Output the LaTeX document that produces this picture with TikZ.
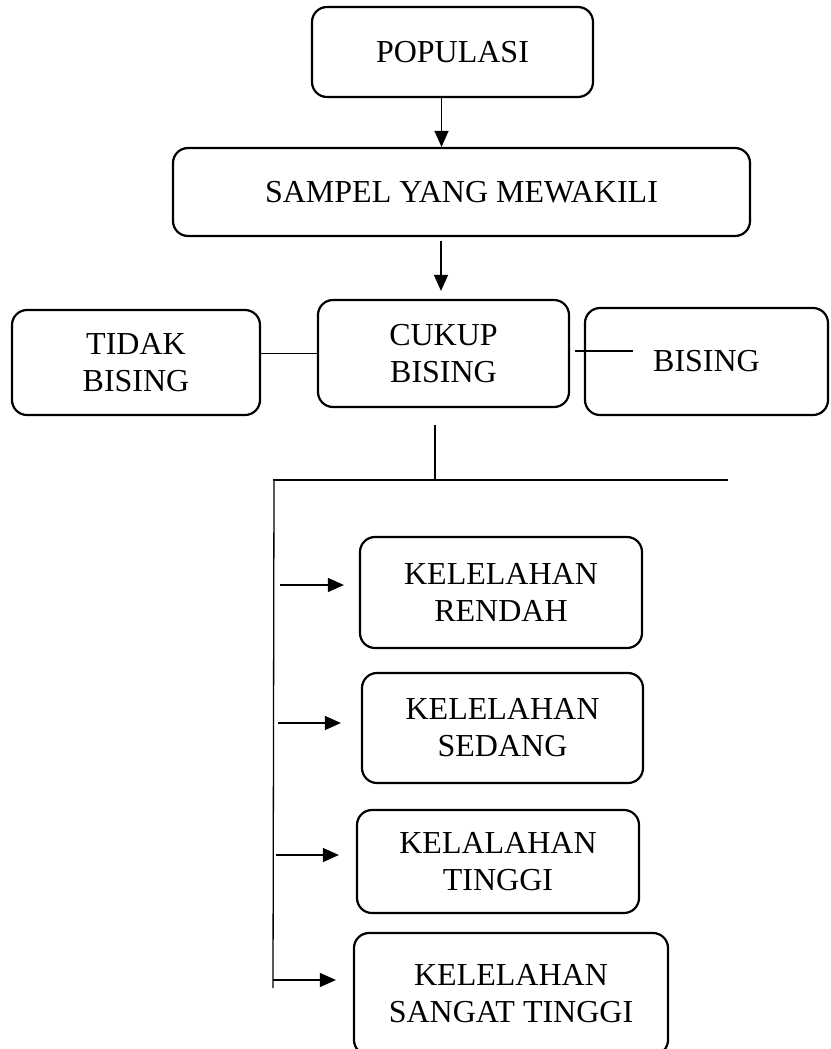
\documentclass[tikz,border=0pt]{standalone}
\usepackage{fontspec}
\setmainfont{Liberation Serif}
\usetikzlibrary{arrows.meta}
\begin{document}
\begin{tikzpicture}[x=1pt,y=-1pt,
  box/.style={draw,line width=2.2pt,rounded corners=15pt,inner sep=0pt,align=center,
    font=\fontsize{32}{37}\selectfont},
  conn/.style={line width=1.3pt},
  arr/.style={line width=1.3pt,-{Triangle[length=16pt,width=14pt]}}]
\useasboundingbox (0,0) rectangle (830,1049);
\fill[white] (0,0) rectangle (830,1049);
\node[box,minimum width=281pt,minimum height=90pt] (pop) at (452.5,52) {POPULASI};
\node[box,minimum width=577pt,minimum height=88pt] (samp) at (461.5,192) {SAMPEL YANG MEWAKILI};
\node[box,minimum width=248pt,minimum height=105pt] (tidak) at (136,362.5) {TIDAK\\BISING};
\node[box,minimum width=251pt,minimum height=107pt] (cukup) at (443.5,353.5) {CUKUP\\BISING};
\node[box,minimum width=243pt,minimum height=107pt] (bising) at (706.5,361.5) {BISING};
\node[box,minimum width=282pt,minimum height=111pt] (kr) at (501,592.5) {KELELAHAN\\RENDAH};
\node[box,minimum width=281pt,minimum height=110pt] (ks) at (502.5,728) {KELELAHAN\\SEDANG};
\node[box,minimum width=282pt,minimum height=103pt] (kt) at (498,861.5) {KELALAHAN\\TINGGI};
\node[box,minimum width=314pt,minimum height=122pt] (kst) at (511,994) {KELELAHAN\\SANGAT TINGGI};
% connectors
\draw[arr] ([xshift=-11pt]pop.south) -- ([xshift=-11pt]pop.south |- samp.north);
\coordinate (a2s) at (441,241);
\draw[arr] (a2s) -- ([xshift=-2.5pt,yshift=8pt]cukup.north);
\draw[conn] (tidak.east |- cukup.west) -- (cukup.west);
\coordinate (b1) at (575,351);
\coordinate (b2) at (633,351);
\draw[conn] (b1) -- (b2);
\coordinate (s1) at (435,425);
\coordinate (s2) at (435,480);
\draw[conn] (s1) -- (s2);
\coordinate (h1) at (273,480);
\coordinate (h2) at (728,480);
\draw[conn] (h1) -- (h2);
\coordinate (v1) at (274,480);
\coordinate (v2) at (273,988);
\draw[conn] (v1) -- (v2);
\coordinate (r1) at (280,585);
\coordinate (r2) at (278,723);
\coordinate (r3) at (276,855);
\coordinate (r4) at (273,980);
\draw[arr] (r1) -- ([xshift=-15pt]kr.west |- r1);
\draw[arr] (r2) -- ([xshift=-20pt]ks.west |- r2);
\draw[arr] (r3) -- ([xshift=-17pt]kt.west |- r3);
\draw[arr] (r4) -- ([xshift=-17pt]kst.west |- r4);
\end{tikzpicture}
\end{document}
